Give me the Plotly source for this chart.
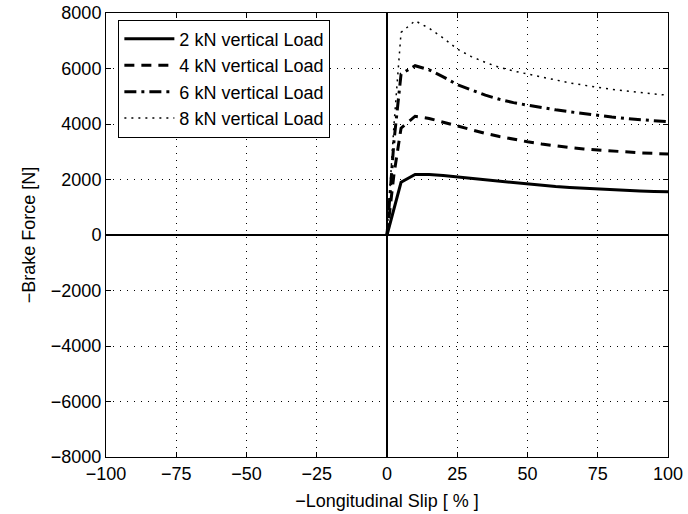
import plotly.graph_objects as go

slip = [0, 2.5, 5, 10, 15, 20, 25, 30, 35, 40, 45, 50, 55, 60, 65, 70, 75, 80, 85, 90, 95, 100]
force_2kN = [0, 950, 1900, 2180, 2180, 2140, 2090, 2030, 1970, 1920, 1870, 1820, 1780, 1745, 1710, 1680, 1650, 1625, 1600, 1585, 1570, 1555]
force_4kN = [0, 2200, 3850, 4280, 4200, 4060, 3920, 3790, 3660, 3550, 3450, 3360, 3280, 3210, 3150, 3100, 3060, 3020, 2990, 2960, 2940, 2920]
force_6kN = [0, 3400, 5800, 6100, 5950, 5700, 5420, 5220, 5040, 4890, 4770, 4680, 4590, 4510, 4440, 4370, 4310, 4250, 4200, 4160, 4120, 4080]
force_8kN = [0, 4000, 7300, 7720, 7450, 7100, 6700, 6430, 6220, 6040, 5910, 5800, 5680, 5580, 5480, 5400, 5320, 5250, 5190, 5130, 5080, 5040]

names = ["2 kN vertical Load", "4 kN vertical Load", "6 kN vertical Load", "8 kN vertical Load"]
series = [force_2kN, force_4kN, force_6kN, force_8kN]
dashes = ["solid", "10px,7px", "12px,5px,3px,5px", "2px,5px"]
widths = [3, 3, 3, 1.5]

x_ticks = [-100, -75, -50, -25, 0, 25, 50, 75, 100]
y_ticks = [-8000, -6000, -4000, -2000, 0, 2000, 4000, 6000, 8000]

def lab(v):
    return ("\u2212" + str(abs(v))) if v < 0 else str(v)

fig = go.Figure()
for n, s, d, w in zip(names, series, dashes, widths):
    fig.add_trace(go.Scatter(x=slip, y=s, mode="lines", name=n,
                             line=dict(color="black", dash=d, width=w)))

FAM = "Liberation Sans, Arial, sans-serif"
tick_font = dict(family=FAM, size=18, color="black")
title_font = dict(family=FAM, size=18, color="black")
axis_common = dict(showline=True, linecolor="black", linewidth=1, mirror="ticks",
                   ticks="inside", ticklen=5, tickcolor="black",
                   showgrid=True, gridcolor="black", gridwidth=1, griddash="1px,6px",
                   zeroline=True, zerolinecolor="black", zerolinewidth=1.5,
                   tickfont=tick_font, automargin=False)

fig.update_xaxes(range=[-100, 100], tickvals=x_ticks, ticktext=[lab(v) for v in x_ticks],
                 title=dict(text="\u2212Longitudinal Slip [ % ]", font=title_font, standoff=11),
                 **axis_common)
fig.update_yaxes(range=[-8000, 8000], tickvals=y_ticks, ticktext=[lab(v) for v in y_ticks],
                 title=dict(text="\u2212Brake Force [N]", font=title_font, standoff=10),
                 **axis_common)

fig.update_layout(width=688, height=514, plot_bgcolor="white", paper_bgcolor="white",
                  margin=dict(l=106, r=20, t=13, b=57), font=tick_font,
                  legend=dict(x=0.022, y=0.985, xanchor="left", yanchor="top",
                              bgcolor="white", bordercolor="black", borderwidth=1,
                              font=dict(family=FAM, size=18, color="black"),
                              tracegroupgap=0, itemwidth=50))

fig.write_html("out.html")
